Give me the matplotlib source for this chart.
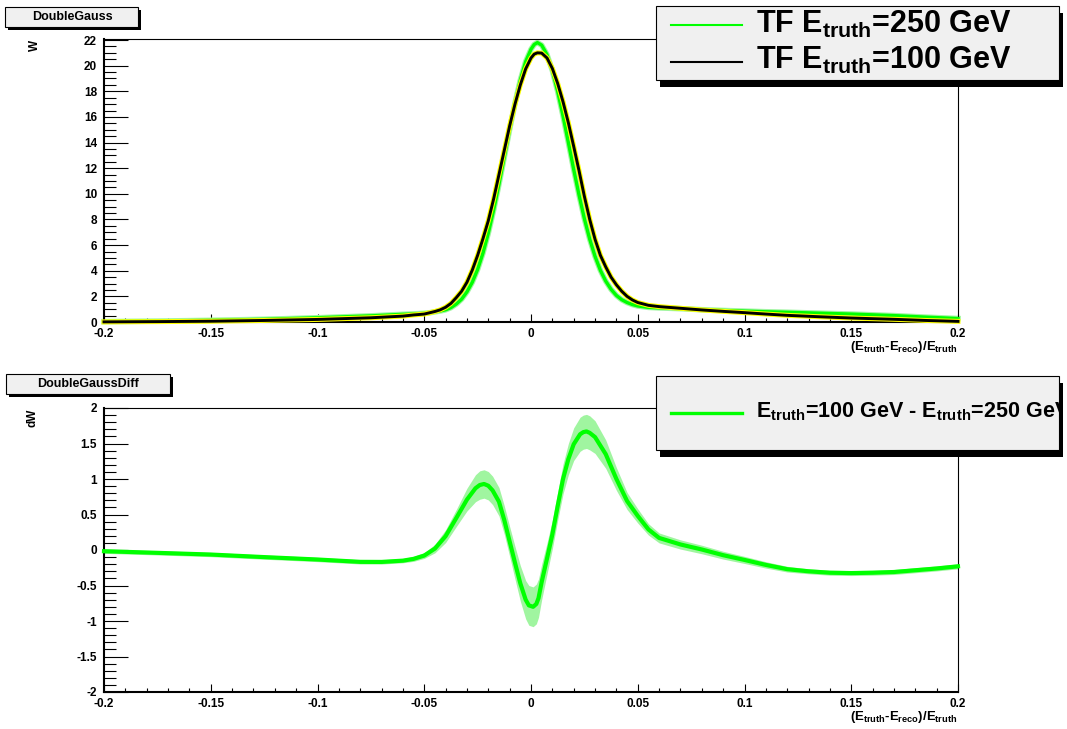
import matplotlib
matplotlib.use('Agg')
import matplotlib.pyplot as plt
from matplotlib.patches import Rectangle
from matplotlib.lines import Line2D
from matplotlib.ticker import MultipleLocator, FixedLocator, FuncFormatter

# DATA
x_top = [-0.2, -0.175, -0.15, -0.125, -0.1, -0.075, -0.06, -0.055, -0.05,
         -0.0475, -0.045, -0.0425, -0.04, -0.0375, -0.035, -0.0325, -0.03,
         -0.0275, -0.025, -0.0225, -0.02, -0.0175, -0.015, -0.0125, -0.01,
         -0.0075, -0.005, -0.0025, 0.0, 0.0015, 0.003,
         0.005, 0.0075, 0.01, 0.0125, 0.015, 0.0175, 0.02, 0.0225,
         0.025, 0.0275, 0.03, 0.0325, 0.035, 0.0375, 0.04, 0.0425,
         0.045, 0.0475, 0.05, 0.055, 0.06,
         0.07, 0.08, 0.09, 0.1, 0.11, 0.12, 0.135, 0.15, 0.17, 0.185, 0.2]

# TF E_truth = 100 GeV (black)
w_100 = [0.01, 0.03, 0.06, 0.12, 0.2, 0.33, 0.46, 0.55, 0.62,
         0.72, 0.82, 0.95, 1.15, 1.45, 1.9, 2.4, 3.1,
         4.05, 5.2, 6.5, 7.9, 9.6, 11.5, 13.4, 15.3,
         17.0, 18.5, 19.75, 20.6, 20.9, 21.0,
         20.98, 20.6, 19.78, 18.61, 17.18, 15.54, 13.7, 11.8,
         9.8, 8.0, 6.45, 5.2, 4.3, 3.5, 2.9, 2.4,
         2.0, 1.72, 1.52, 1.30, 1.2,
         1.07, 0.94, 0.83, 0.73, 0.62, 0.52, 0.41, 0.31, 0.21, 0.12, 0.05]

# TF E_truth = 250 GeV (green)
w_250 = [0.03, 0.07, 0.13, 0.21, 0.33, 0.48, 0.6, 0.63, 0.68,
         0.72, 0.79, 0.86, 0.95, 1.12, 1.40, 1.78, 2.35,
         3.1, 4.1, 5.37, 6.93, 8.73, 10.74, 12.87, 15.03,
         17.07, 18.88, 20.32, 21.28, 21.65, 21.8,
         21.6, 20.86, 19.62, 17.98, 16.07, 14.0, 11.9, 9.9,
         8.06, 6.46, 5.12, 4.03, 3.19, 2.55, 2.07, 1.74,
         1.52, 1.36, 1.25, 1.14, 1.1,
         1.04, 0.96, 0.9, 0.85, 0.8, 0.76, 0.69, 0.62, 0.5, 0.38, 0.27]

# difference 100 GeV - 250 GeV, with its error band
x_diff = [-0.2, -0.175, -0.15, -0.125, -0.1, -0.08, -0.07, -0.06, -0.055, -0.05,
          -0.045, -0.04, -0.035, -0.03, -0.026, -0.024, -0.022, -0.02, -0.018, -0.015,
          -0.0125, -0.01, -0.0075, -0.005, -0.0025, -0.001, 0.001, 0.0025, 0.0035, 0.005,
          0.0075, 0.01, 0.0125, 0.015, 0.0175, 0.02, 0.023, 0.0245, 0.026, 0.0275,
          0.03, 0.035, 0.04, 0.045, 0.05, 0.055, 0.06, 0.07, 0.08, 0.09,
          0.1, 0.11, 0.12, 0.13, 0.14, 0.15, 0.16, 0.17, 0.18, 0.19, 0.2]
dw = [-0.017, -0.04, -0.064, -0.10, -0.134, -0.167, -0.168, -0.15, -0.125, -0.078,
      0.02, 0.195, 0.45, 0.71, 0.87, 0.915, 0.93, 0.905, 0.84, 0.68,
      0.42, 0.12, -0.18, -0.47, -0.70, -0.78, -0.80, -0.76, -0.68, -0.45,
      -0.12, 0.22, 0.62, 1.0, 1.28, 1.49, 1.63, 1.66, 1.67, 1.65,
      1.59, 1.35, 1.0, 0.69, 0.48, 0.29, 0.17, 0.078, 0.007, -0.073,
      -0.14, -0.21, -0.27, -0.30, -0.32, -0.325, -0.32, -0.31, -0.285, -0.26, -0.23]
dw_err = [0.03, 0.03, 0.03, 0.03, 0.03, 0.03, 0.03, 0.03, 0.035, 0.04,
          0.06, 0.09, 0.12, 0.16, 0.19, 0.2, 0.2, 0.2, 0.2, 0.2,
          0.2, 0.21, 0.23, 0.25, 0.27, 0.28, 0.28, 0.28, 0.27, 0.25,
          0.22, 0.2, 0.2, 0.21, 0.22, 0.23, 0.24, 0.24, 0.24, 0.24,
          0.23, 0.2, 0.16, 0.12, 0.1, 0.08, 0.07, 0.065, 0.06, 0.055,
          0.05, 0.045, 0.04, 0.035, 0.035, 0.035, 0.035, 0.035, 0.035, 0.035, 0.035]

xticks = [-0.2, -0.15, -0.1, -0.05, 0, 0.05, 0.1, 0.15, 0.2]
yticks_top = [0, 2, 4, 6, 8, 10, 12, 14, 16, 18, 20, 22]
yticks_diff = [-2, -1.5, -1, -0.5, 0, 0.5, 1, 1.5, 2]

GREEN = '#00ff00'
LIGHTGREEN = '#a0f5a0'
PAVE = '#f0f0f0'

plt.rcParams['font.family'] = ['Liberation Sans', 'DejaVu Sans']
plt.rcParams['font.weight'] = 'bold'
plt.rcParams['mathtext.fontset'] = 'custom'
for k in ('rm', 'it', 'bf', 'sf'):
    plt.rcParams['mathtext.' + k] = 'Liberation Sans:bold'

W, H = 1067, 729
fig = plt.figure(figsize=(W / 100, H / 100), dpi=100)


def fx(px):
    return px / W


def fy(py):
    return 1 - py / H


fmt = FuncFormatter(lambda v, p: '%g' % round(v, 4))


def make_axes(top, bottom, yticks, yminor, ylim):
    ax = fig.add_axes([fx(104), fy(bottom), fx(958) - fx(104), (bottom - top) / H])
    ax.set_xlim(-0.2, 0.2)
    ax.set_ylim(*ylim)
    ax.xaxis.set_major_locator(FixedLocator(xticks))
    ax.xaxis.set_minor_locator(MultipleLocator(0.01))
    ax.yaxis.set_major_locator(FixedLocator(yticks))
    ax.yaxis.set_minor_locator(MultipleLocator(yminor))
    ax.xaxis.set_major_formatter(fmt)
    ax.yaxis.set_major_formatter(fmt)
    ax.tick_params(axis='y', which='major', direction='in', length=17.3, width=0.8,
                   labelsize=8.5, pad=5, right=False)
    ax.tick_params(axis='y', which='minor', direction='in', length=8.6, width=0.8, right=False)
    ax.tick_params(axis='x', which='major', direction='in', length=5.8, width=0.8,
                   labelsize=8.5, pad=4, top=False)
    ax.tick_params(axis='x', which='minor', direction='in', length=2.9, width=0.8, top=False)
    for s in ('left', 'bottom'):
        ax.spines[s].set_linewidth(1.5)
    for s in ('top', 'right'):
        ax.spines[s].set_linewidth(0.8)
    return ax


def pave(x0, y0, x1, y1, sx, sy):
    shadow = Rectangle((fx(x0 + sx), fy(y1 + sy)), (x1 - x0) / W, (y1 - y0) / H,
                       transform=fig.transFigure, fc='black', ec='none', zorder=10)
    box = Rectangle((fx(x0), fy(y1)), (x1 - x0) / W, (y1 - y0) / H,
                    transform=fig.transFigure, fc=PAVE, ec='black', lw=0.8, zorder=11)
    fig.add_artist(shadow)
    fig.add_artist(box)
    return box


# top pad
ax1 = make_axes(39, 322, yticks_top, 0.5, (0, 22.08))
ax1.plot(x_top, w_250, color=LIGHTGREEN, lw=4.0, clip_on=False, zorder=2)
ax1.plot(x_top, w_250, color=GREEN, lw=2.4, clip_on=False, zorder=3)
ax1.plot(x_top, w_100, color='yellow', lw=3.6, clip_on=False, zorder=4)
ax1.plot(x_top, w_100, color='black', lw=2.1, clip_on=False, zorder=5)

# bottom pad
ax2 = make_axes(408, 692, yticks_diff, 0.1, (-2, 2))
lo = [v - e for v, e in zip(dw, dw_err)]
hi = [v + e for v, e in zip(dw, dw_err)]
ax2.fill_between(x_diff, lo, hi, color=LIGHTGREEN, lw=0, zorder=2)
ax2.plot(x_diff, dw, color=GREEN, lw=3.0, clip_on=False, zorder=3)

# axis titles
fig.text(fx(35), fy(40), 'W', rotation=90, ha='center', va='top', fontsize=8.5)
fig.text(fx(33), fy(409), 'dW', rotation=90, ha='center', va='top', fontsize=8.5)
xlab = '($E_{truth}$-$E_{reco}$)/$E_{truth}$'
fig.text(fx(957), fy(350), xlab, ha='right', va='baseline', fontsize=9.5)
fig.text(fx(957), fy(720), xlab, ha='right', va='baseline', fontsize=9.5)

# title boxes
pave(5, 7, 138, 27, 3, 3)
fig.text(fx(72), fy(17), 'DoubleGauss', ha='center', va='center', fontsize=9, zorder=12)
pave(6, 374, 170, 394, 3, 3)
fig.text(fx(88), fy(384), 'DoubleGaussDiff', ha='center', va='center', fontsize=9, zorder=12)

# legend, top
pave(656, 6, 1059, 80, 4, 7)
fig.add_artist(Line2D([fx(671), fx(742)], [fy(25), fy(25)], transform=fig.transFigure,
                      color=GREEN, lw=1.5, zorder=12))
fig.add_artist(Line2D([fx(671), fx(742)], [fy(62), fy(62)], transform=fig.transFigure,
                      color='black', lw=1.5, zorder=12))
fig.text(fx(756), fy(33), 'TF $E_{truth}$=250 GeV', ha='left', va='baseline',
         fontsize=22, zorder=12)
fig.text(fx(756), fy(69), 'TF $E_{truth}$=100 GeV', ha='left', va='baseline',
         fontsize=22, zorder=12)

# legend, bottom (text clipped by the box, as in the original)
box2 = pave(656, 376, 1059, 450, 4, 7)
fig.add_artist(Line2D([fx(671), fx(742)], [fy(413), fy(413)], transform=fig.transFigure,
                      color=GREEN, lw=2.4, zorder=12))
t = fig.text(fx(756), fy(417), '$E_{truth}$=100 GeV - $E_{truth}$=250 GeV', ha='left',
             va='baseline', fontsize=15.5, zorder=12)
t.set_clip_path(box2)

fig.savefig('out.png', dpi=100)
